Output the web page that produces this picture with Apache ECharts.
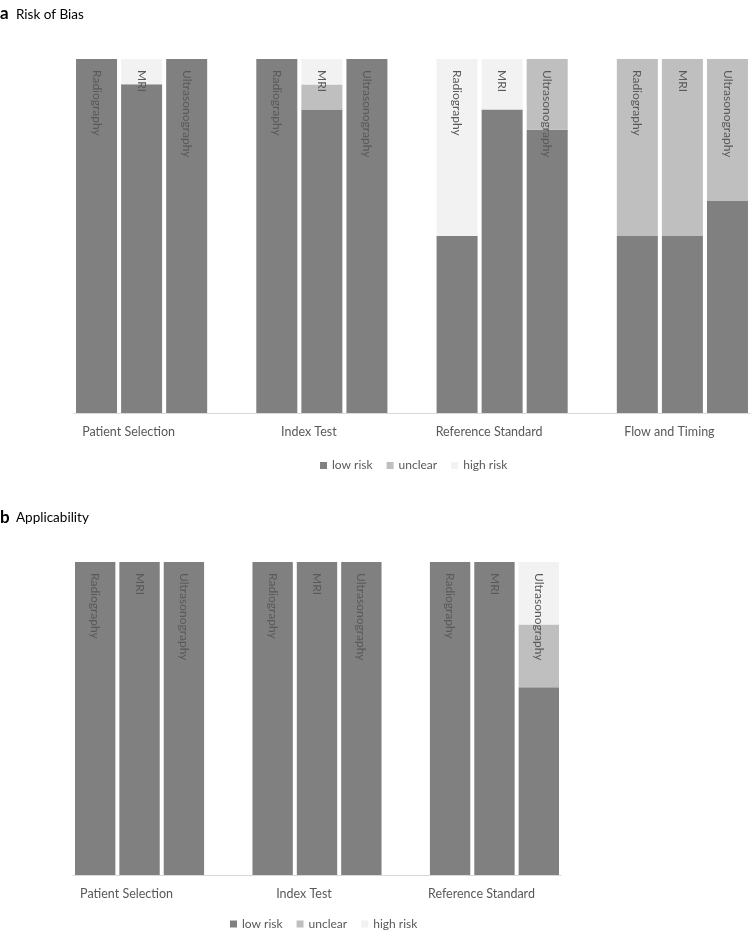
<!DOCTYPE html>
<html>
<head>
<meta charset="utf-8">
<script src="https://cdn.jsdelivr.net/npm/echarts@6/dist/echarts.min.js"></script>
<style>
html,body{margin:0;padding:0;background:#fff;}
#chart{width:751px;height:933px;}
</style>
</head>
<body>
<div id="chart"></div>
<script>
// ---- data ----
const modalities = ['Radiography', 'MRI', 'Ultrasonography'];
const biasDomains = ['Patient Selection', 'Index Test', 'Reference Standard', 'Flow and Timing'];
const applicDomains = ['Patient Selection', 'Index Test', 'Reference Standard'];
const riskLevels = ['low risk', 'unclear', 'high risk'];

// percentages per domain, in modality order (Radiography, MRI, Ultrasonography)
const biasLow     = [[100, 92.9, 100], [100, 85.7, 100], [50, 85.7, 80], [50, 50, 60]];
const biasUnclear = [[0, 0, 0],        [0, 7.1, 0],      [0, 0, 20],     [50, 50, 40]];
const biasHigh    = [[0, 7.1, 0],      [0, 7.2, 0],      [50, 14.3, 0],  [0, 0, 0]];

const applicLow     = [[100, 100, 100], [100, 100, 100], [100, 100, 60]];
const applicUnclear = [[0, 0, 0],       [0, 0, 0],       [0, 0, 20]];
const applicHigh    = [[0, 0, 0],       [0, 0, 0],       [0, 0, 20]];

const panelLetters = ['a', 'b'];
const panelTitles = ['Risk of Bias', 'Applicability'];

// ---- helpers ----
const COLORS = ['#808080', '#BFBFBF', '#F2F2F2'];
const TXT = '#595959';
const FONT = 'Lato';

function slots(rows) {
  const out = [];
  rows.forEach((r, g) => {
    r.forEach(v => out.push(v));
    if (g < rows.length - 1) out.push(null);
  });
  return out;
}
function slotNames(domains) {
  const out = [];
  domains.forEach((d, g) => {
    modalities.forEach(m => out.push(d + ' | ' + m));
    if (g < domains.length - 1) out.push('gap' + g);
  });
  return out;
}
function totals(rowsList) {
  const n = rowsList[0].length;
  const rows = [];
  for (let g = 0; g < n; g++) {
    rows.push(modalities.map((m, i) => rowsList.reduce((s, r) => s + r[g][i], 0)));
  }
  return slots(rows);
}

function buildPanel(idx, low, unclear, high) {
  const series = [];
  [low, unclear, high].forEach((rows, k) => {
    series.push({
      name: riskLevels[k], type: 'bar', stack: 'p' + idx,
      xAxisIndex: idx, yAxisIndex: idx,
      data: slots(rows),
      barCategoryGap: '9%', barGap: '-100%',
      itemStyle: { color: COLORS[k] },
      silent: true
    });
  });
  series.push({
    name: 'lbl' + idx, type: 'bar',
    xAxisIndex: idx, yAxisIndex: idx,
    data: totals([low, unclear, high]),
    barCategoryGap: '9%', barGap: '-100%',
    itemStyle: { color: 'rgba(0,0,0,0)' },
    silent: true, z: 5,
    label: {
      show: true, position: 'insideTop', rotate: -90, distance: 11,
      align: 'left', verticalAlign: 'middle',
      color: TXT, fontFamily: FONT, fontSize: 12,
      formatter: p => modalities[p.dataIndex % 4]
    }
  });
  return series;
}

const titleBaselines = [19.5, 523];
const graphics = [];
panelLetters.forEach((l, i) => {
  graphics.push({ type: 'text', left: 0, top: titleBaselines[i] - 14,
    style: { text: l, font: 'bold 17px ' + FONT, fill: '#000' } });
  graphics.push({ type: 'text', left: 16, top: titleBaselines[i] - 12,
    style: { text: panelTitles[i], font: '13.5px ' + FONT, fill: '#000' } });
});

const chart = echarts.init(document.getElementById('chart'), null, { renderer: 'canvas' });
const legendBase = { data: riskLevels, icon: 'rect', itemWidth: 7, itemHeight: 7, itemGap: 14,
  padding: 0, selectedMode: false, textStyle: { color: TXT, fontFamily: FONT, fontSize: 12 } };
const option = {
  animation: false,
  backgroundColor: '#fff',
  graphic: graphics,
  legend: [
    Object.assign({}, legendBase, { top: 459.5, left: 320 }),
    Object.assign({}, legendBase, { top: 918, left: 230 })
  ],
  grid: [
    { left: 74, width: 676, top: 59, height: 354 },
    { left: 73, width: 488, top: 562, height: 313 }
  ],
  xAxis: [biasDomains, applicDomains].map((domains, i) => ({
    type: 'category', gridIndex: i, data: slotNames(domains),
    axisLine: { lineStyle: { color: '#D9D9D9', width: 1 } },
    axisTick: { show: false },
    axisLabel: {
      interval: 0, margin: 12, color: TXT, fontFamily: FONT, fontSize: 12.5,
      padding: [0, 26, 0, 0],
      formatter: (v, j) => (j % 4 === 1 ? domains[(j - 1) / 4] : '')
    }
  })),
  yAxis: [0, 1].map(i => ({ type: 'value', gridIndex: i, min: 0, max: 100, show: false })),
  series: [
    ...buildPanel(0, biasLow, biasUnclear, biasHigh),
    ...buildPanel(1, applicLow, applicUnclear, applicHigh)
  ]
};
chart.setOption(option);
</script>
</body>
</html>
